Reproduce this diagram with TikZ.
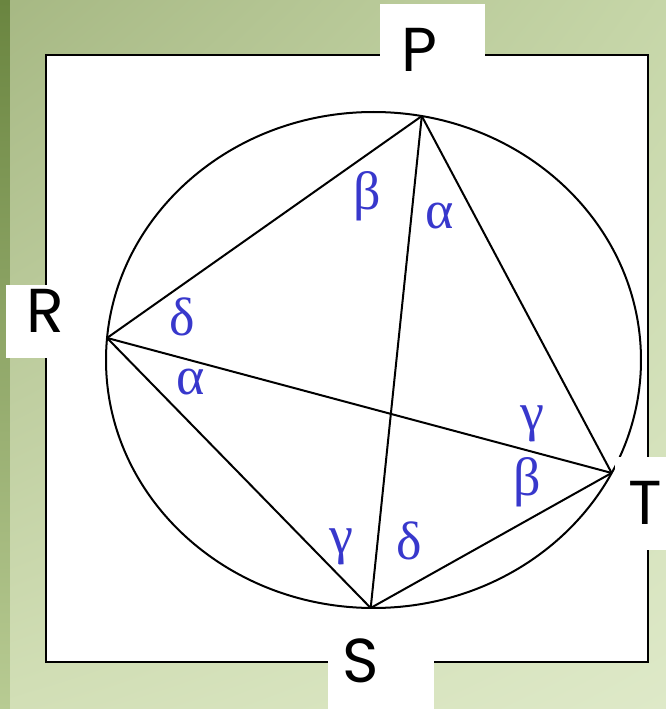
\documentclass[tikz,border=0pt]{standalone}
\usepackage{fontspec}
\usepackage{tikz}
\usetikzlibrary{calc,shadings}
\newfontfamily\rotulo{Poppins}
\newfontfamily\grego{Liberation Serif}
\definecolor{azulang}{RGB}{56,56,204}
\definecolor{fundoA}{RGB}{166,184,131}
\definecolor{fundoB}{RGB}{198,214,168}
\definecolor{fundoC}{RGB}{210,223,182}
\definecolor{fundoD}{RGB}{222,233,200}
\definecolor{faixaA}{RGB}{106,133,64}
\definecolor{faixaB}{RGB}{184,203,147}

\begin{document}
\begin{tikzpicture}[x=0.5pt, y=0.5pt,
    traco/.style={line width=1pt, draw=black},
    caixa/.style={fill=white},
    vertice/.style={font=\rotulo\fontsize{31}{36}\selectfont, inner sep=0pt},
    angulo/.style={text=azulang, font=\grego\fontsize{27}{30}\selectfont, inner sep=0pt}]
    \useasboundingbox (0,0) rectangle (666,709);

    % Fundo
    \shade[upper left=fundoA, upper right=fundoB, lower left=fundoC, lower right=fundoD]
        (0,0) rectangle (666,709);
    \shade[top color=faixaA, bottom color=faixaB] (0,0) rectangle (10,709);

    % Quadro branco
    \draw[traco, fill=white] (46,47) rectangle (648,654);

    % Circunferencia
    \coordinate (O) at (373.5,349);
    \draw[traco] (O) ellipse [x radius=267.5, y radius=248];

    % Caixas dos rotulos
    \fill[caixa] (380,634) rectangle (485,705);
    \fill[caixa] (6,351) rectangle (100,424);
    \fill[caixa] (615,159) rectangle (666,252);
    \fill[caixa] (328,0) rectangle (434,95);

    % Posicionar os vertices
    \coordinate (P) at ($(O)+(79.6:267.5 and 248)$);
    \coordinate (R) at ($(O)+(174.9:267.5 and 248)$);
    \coordinate (T) at ($(O)+(-27.1:267.5 and 248)$);
    \coordinate (S) at ($(O)+(-90.6:267.5 and 248)$);

    % Desenhar as cordas
    \draw[traco] (P) -- (R);
    \draw[traco] (P) -- (T);
    \draw[traco] (P) -- (S);
    \draw[traco] (R) -- (T);
    \draw[traco] (R) -- (S);
    \draw[traco] (S) -- (T);

    % Nomes dos vertices
    \node[vertice] (nP) at (419,659) {P};
    \node[vertice] (nR) at (45,398) {R};
    \node[vertice] (nT) at (645,206) {T};
    \node[vertice] (nS) at (361,48) {S};

    % Angulos
    \node[angulo] (b1) at (367,513) {β};
    \node[angulo] (a1) at (440,493) {α};
    \node[angulo] (d1) at (182,392) {δ};
    \node[angulo] (a2) at (191,327) {α};
    \node[angulo] (g1) at (532,285) {γ};
    \node[angulo] (b2) at (527,227) {β};
    \node[angulo] (g2) at (341,162) {γ};
    \node[angulo] (d2) at (409,168) {δ};
\end{tikzpicture}
\end{document}
